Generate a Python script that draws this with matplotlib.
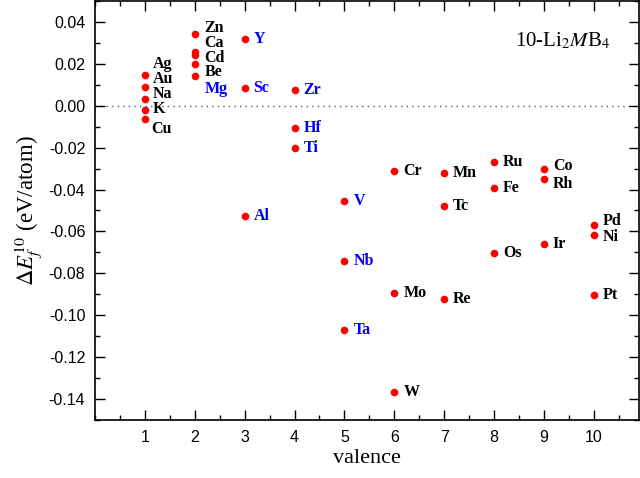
import matplotlib
matplotlib.use('Agg')
import matplotlib.pyplot as plt
from matplotlib.ticker import MultipleLocator

plt.rcParams['mathtext.fontset'] = 'stix'
plt.rcParams['font.family'] = ['Liberation Sans', 'DejaVu Sans']

# Data: valence and formation energy difference per element
elements = ['Ag', 'Au', 'Na', 'K', 'Cu',
            'Zn', 'Ca', 'Cd', 'Be', 'Mg',
            'Y', 'Sc', 'Al',
            'Zr', 'Hf', 'Ti',
            'V', 'Nb', 'Ta',
            'Cr', 'Mo', 'W',
            'Mn', 'Tc', 'Re',
            'Ru', 'Fe', 'Os',
            'Co', 'Rh', 'Ir',
            'Pd', 'Ni', 'Pt']
valence = [1, 1, 1, 1, 1,
           2, 2, 2, 2, 2,
           3, 3, 3,
           4, 4, 4,
           5, 5, 5,
           6, 6, 6,
           7, 7, 7,
           8, 8, 8,
           9, 9, 9,
           10, 10, 10]
dE = [0.0149, 0.0090, 0.0032, -0.0022, -0.0062,
      0.0340, 0.0256, 0.0243, 0.0197, 0.0141,
      0.0318, 0.0085, -0.0525,
      0.0073, -0.0108, -0.0202,
      -0.0453, -0.0741, -0.1070,
      -0.0312, -0.0895, -0.1367,
      -0.0320, -0.0479, -0.0923,
      -0.0270, -0.0393, -0.0704,
      -0.0304, -0.0348, -0.0660,
      -0.0571, -0.0615, -0.0904]
blue_elements = ['Y', 'Sc', 'Mg', 'Zr', 'Hf', 'Ti', 'Al', 'V', 'Nb', 'Ta']

# label offsets in pixels (dx, dy), default to the right of the dot
label_offsets = {
    'Ag': (8, 11), 'Au': (8, 8), 'Na': (8, 5), 'K': (8, 1), 'Cu': (6, -10),
    'Zn': (10, 6), 'Ca': (10, 9), 'Cd': (10, -3), 'Be': (10, -8), 'Mg': (10, -13),
    'Pd': (9, 4), 'Ni': (9, -2), 'Co': (9, 3), 'Rh': (9, -5),
}

fig = plt.figure(figsize=(6.4, 4.78), dpi=100)
ax = fig.add_axes([0.1484, 0.1213, 0.8496, 0.8767])

ax.axhline(0, color='#555555', linestyle=(0, (1, 3)), linewidth=1.0, zorder=1)
ax.plot(valence, dE, 'o', color='#ff0000', markersize=5.5, markeredgewidth=0, zorder=3)

for el, v, e in zip(elements, valence, dE):
    dx, dy = label_offsets.get(el, (9, 0))
    ax.annotate(el, (v, e), xytext=(dx, dy), textcoords='offset pixels',
                ha='left', va='center', fontsize=11.5, fontweight='bold',
                family='Liberation Serif',
                color='#0000ff' if el in blue_elements else 'black')

ax.text(0.948, 0.905, r'10-Li$_2$$M$B$_4$', transform=ax.transAxes,
        ha='right', va='center', fontsize=15, family='Liberation Serif')

ax.set_xlim(0, 10.9)
ax.set_ylim(-0.15, 0.05)
ax.xaxis.set_major_locator(MultipleLocator(1))
ax.xaxis.set_minor_locator(MultipleLocator(0.5))
ax.yaxis.set_major_locator(MultipleLocator(0.02))
ax.yaxis.set_minor_locator(MultipleLocator(0.01))
ax.set_xticks(range(1, 11))
ax.set_yticks([0.04, 0.02, 0.0, -0.02, -0.04, -0.06, -0.08, -0.10, -0.12, -0.14])
ax.set_yticklabels(['0.04', '0.02', '0.00', '-0.02', '-0.04', '-0.06', '-0.08',
                    '-0.10', '-0.12', '-0.14'])
ax.tick_params(which='both', direction='in', top=True, right=True, labelsize=11.5,
               width=1.0)
ax.tick_params(which='major', length=7, pad=7)
ax.tick_params(which='minor', length=3.5)
for s in ax.spines.values():
    s.set_linewidth(1.2)

ax.set_xlabel('valence', fontsize=16, family='Liberation Serif', labelpad=3)
ax.set_ylabel(r'$\Delta E_f^{10}$ (eV/atom)', fontsize=16.5, family='Liberation Serif',
              labelpad=3)

fig.savefig('out.png', dpi=100)
